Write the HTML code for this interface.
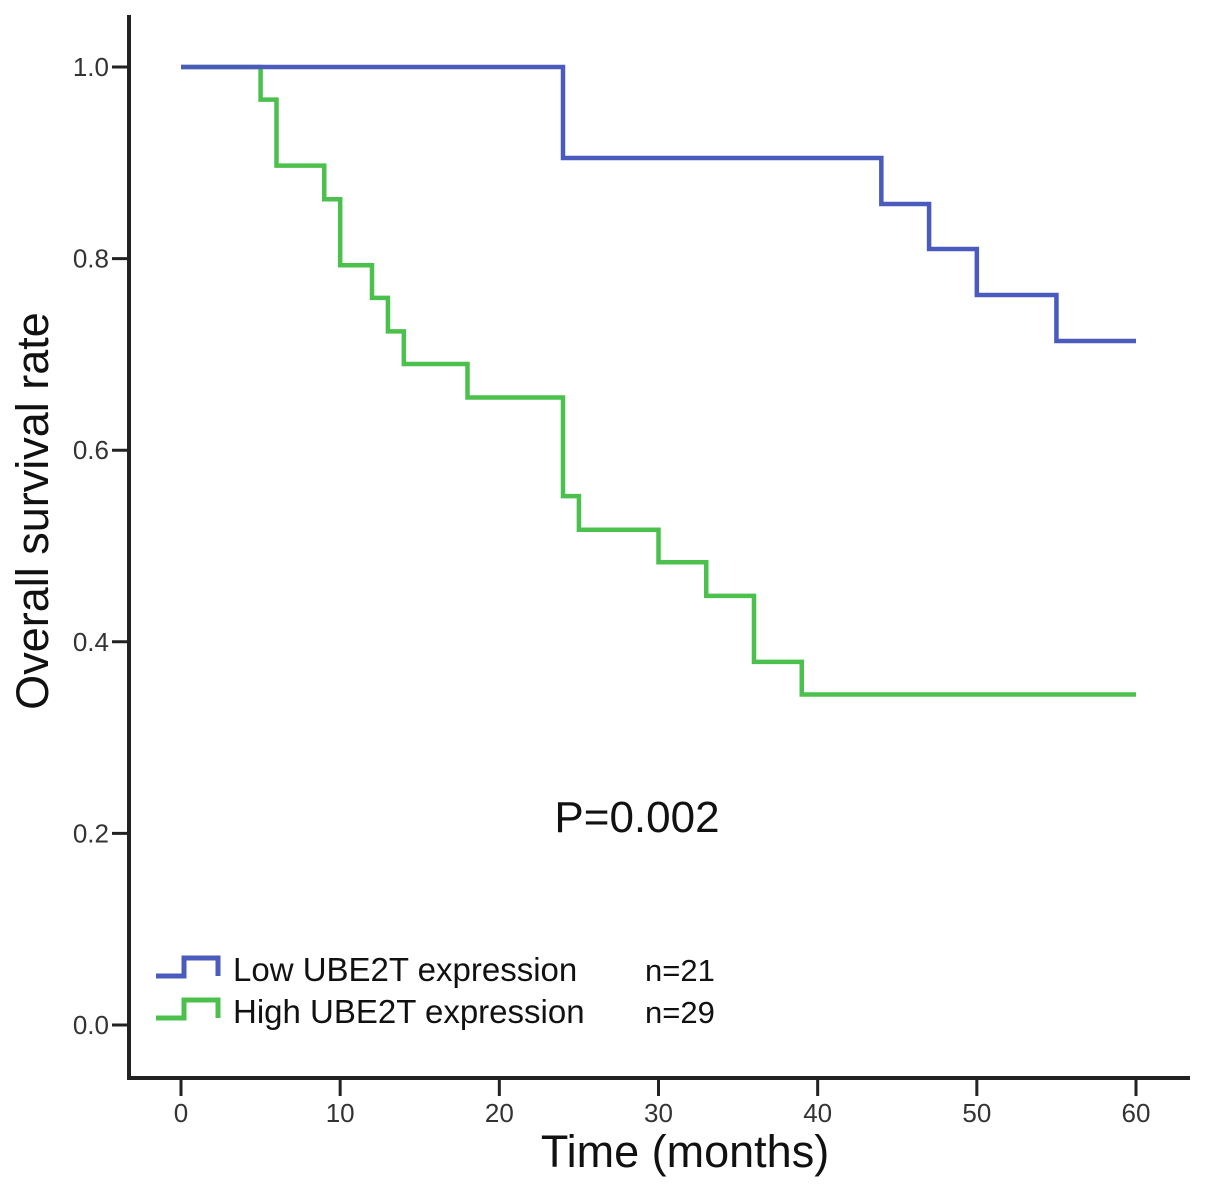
<!DOCTYPE html>
<html><head><meta charset="utf-8"><style>
html,body{margin:0;padding:0;background:#fff}
svg{display:block}
text{font-family:"Liberation Sans",sans-serif}
</style></head><body>
<svg id="chart" width="1205" height="1188" viewBox="0 0 1205 1188">
<g id="axes"></g>
<g id="curves"></g>
<text x="637" y="832" font-size="44" text-anchor="middle" fill="#111">P=0.002</text>
<text x="685" y="1167" font-size="45" text-anchor="middle" fill="#111">Time (months)</text>
<text transform="translate(48,511) rotate(-90)" font-size="45" text-anchor="middle" fill="#111">Overall survival rate</text>
<g>
<path d="M156 976H184V958H218V976" fill="none" stroke="#4a5bbd" stroke-width="5"/>
<text x="233" y="981" font-size="33" fill="#111">Low UBE2T expression</text>
<text x="645" y="981" font-size="31" fill="#111">n=21</text>
<path d="M156 1018H184V1000H218V1018" fill="none" stroke="#4cc04c" stroke-width="5"/>
<text x="233" y="1023" font-size="33" fill="#111">High UBE2T expression</text>
<text x="645" y="1023" font-size="31" fill="#111">n=29</text>
</g>
</svg>
<script>
const xTicks=[0,10,20,30,40,50,60];
const yTicks=[0.0,0.2,0.4,0.6,0.8,1.0];
const lowTimes=[0,24,44,47,50,55,60];
const lowSurv=[1.0,0.905,0.857,0.810,0.762,0.714,0.714];
const highTimes=[0,5,6,9,10,12,13,14,18,24,25,30,33,36,39,60];
const highSurv=[1.0,0.966,0.897,0.862,0.793,0.759,0.724,0.690,0.655,0.552,0.517,0.483,0.448,0.379,0.345,0.345];
const NS="http://www.w3.org/2000/svg";
const X=t=>181+t*(1136-181)/60;
const Y=v=>1025-v*(1025-67);
function mk(tag,attrs,parent){const e=document.createElementNS(NS,tag);for(const k in attrs)e.setAttribute(k,attrs[k]);parent.appendChild(e);return e;}
const ax=document.getElementById('axes');
let a=mk('path',{d:'M129 15V1078H1190',fill:'none',stroke:'#222','stroke-width':4},ax);


yTicks.forEach(v=>{
 const t=mk('line',{x1:112,x2:129,y1:Y(v),y2:Y(v),stroke:'#222','stroke-width':3},ax);
 
 
 const l=mk('text',{x:109,y:Y(v)+9,'font-size':26,'text-anchor':'end',fill:'#333'},ax);
 l.textContent=v.toFixed(1);
 
 
});
xTicks.forEach(v=>{
 const t=mk('line',{x1:X(v),x2:X(v),y1:1078,y2:1096,stroke:'#222','stroke-width':3},ax);
 
 
 const l=mk('text',{x:X(v),y:1122,'font-size':26,'text-anchor':'middle',fill:'#333'},ax);
 l.textContent=v;
 
 
});
function step(ts,vs){let d='M'+X(ts[0])+' '+Y(vs[0]);for(let i=1;i<ts.length;i++){d+='H'+X(ts[i])+'V'+Y(vs[i]);}return d;}
const cv=document.getElementById('curves');
const h=mk('path',{d:step(highTimes,highSurv),fill:'none',stroke:'#4cc04c','stroke-width':4.5},cv);


const lo=mk('path',{d:step(lowTimes,lowSurv),fill:'none',stroke:'#4a5bbd','stroke-width':4.5},cv);


</script>
</body></html>
